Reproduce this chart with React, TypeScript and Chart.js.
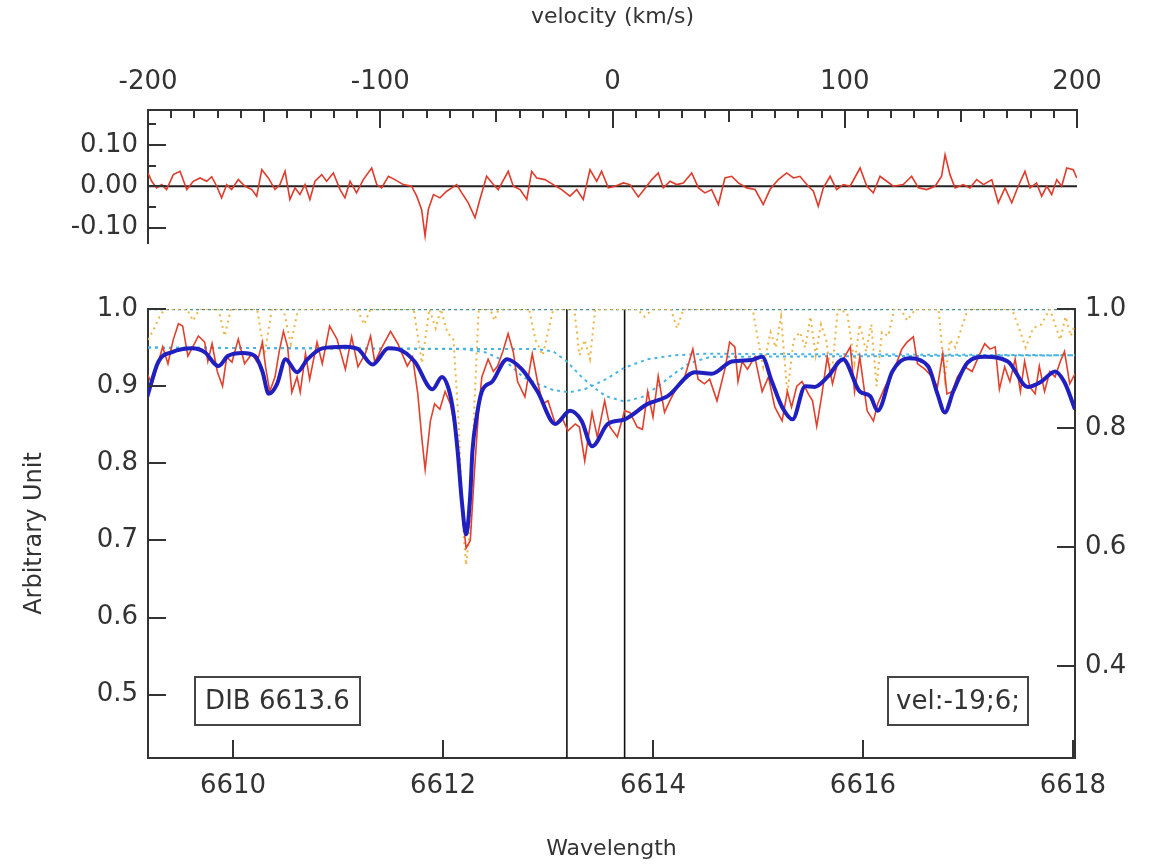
import React, { useEffect, useRef } from "react";
import { Chart, registerables } from "chart.js";

Chart.register(...registerables);

const FONT = "'DejaVu Sans', 'Noto Sans', sans-serif";
const AXIS = "#333333";
const TEXT = "#333333";

// ---------- top panel: residuals vs velocity ----------
const velocityTicks = [-200, -100, 0, 100, 200];
const residualTicks = [-0.1, 0, 0.1];
const residVel = [-200, -198.4, -196.3, -194.1, -192, -189.1, -186.2, -183.3, -180.5, -177.6, -174.7, -172.6, -170.4, -168.3, -166.1, -164, -161.1, -158.2, -155.3, -153.2, -151, -148.2, -145.3, -143.2, -141, -138.9, -136.7, -134.6, -132.4, -130.3, -128.1, -125.2, -123.1, -120.2, -117.3, -115.2, -113, -110.2, -107.3, -103.7, -101.5, -99.4, -96.5, -93.7, -90.1, -86.5, -84.3, -82.2, -80.7, -79.3, -77.1, -74.3, -71.4, -69.2, -67.1, -64.9, -62.1, -59.2, -57.1, -54.2, -51.3, -49.2, -44.9, -42.7, -39.8, -36.9, -34.8, -32.6, -29.1, -25.5, -21.9, -18.3, -15.4, -12.6, -9.7, -6.8, -4.7, -1.8, 1.1, 4.7, 7.5, 11.1, 14.7, 16.9, 19.7, 21.9, 24.8, 27.6, 30.5, 34.1, 37, 39.8, 42.7, 45.6, 48.4, 51.3, 54.2, 57.8, 61.4, 64.9, 67.8, 71.4, 75, 77.9, 80.7, 84.3, 86.5, 88.6, 90.8, 93.7, 96.5, 99.4, 102.3, 106.6, 109.5, 112.3, 115.2, 118.1, 120.9, 125.2, 128.8, 131.7, 135.3, 138.9, 141.7, 143.2, 145.3, 147.5, 151, 153.9, 156.8, 159.7, 163.3, 166.1, 169, 171.9, 174.7, 177.6, 179.8, 182.6, 184.8, 187, 189.1, 191.3, 193.4, 195.6, 198.4, 199.9];
const residVal = [0.032, 0.012, -0.004, 0.004, -0.008, 0.028, 0.036, -0.008, 0.012, 0.02, 0.012, 0.023, 0, -0.028, 0.004, -0.008, 0.016, 0, -0.008, -0.024, 0.04, 0.02, -0.008, 0.004, 0.036, -0.032, -0.004, -0.02, 0.004, -0.032, 0.012, 0.028, 0.012, 0.032, -0.008, -0.028, 0.012, -0.016, 0.016, 0.044, 0.004, -0.004, 0.024, 0.016, 0.004, 0, -0.024, -0.056, -0.12, -0.056, -0.02, -0.028, -0.012, -0.004, 0.004, -0.016, -0.04, -0.076, -0.032, 0.024, 0.004, -0.008, 0.036, 0, -0.008, -0.032, 0.036, 0.02, 0.016, 0.004, -0.008, -0.024, -0.008, -0.032, 0.04, 0.012, 0.036, -0.004, 0, 0.008, 0.004, -0.026, 0, 0.016, 0.032, -0.004, 0.012, 0.004, 0.008, 0.032, -0.004, -0.016, -0.008, -0.044, 0.02, 0.024, 0.008, -0.004, -0.008, -0.044, -0.008, 0.016, 0.032, 0.02, 0.024, 0, -0.012, -0.048, -0.004, 0.024, -0.008, 0.004, 0, 0.044, 0, -0.016, 0.024, 0.012, 0, 0.004, 0.024, -0.004, -0.008, 0, 0.024, 0.076, 0.028, -0.004, 0.004, -0.004, 0.016, 0.004, 0.016, -0.04, -0.004, -0.04, 0, 0.036, -0.004, 0.008, -0.024, 0, -0.02, 0.016, 0, 0.044, 0.04, 0.02];

// ---------- bottom panel: spectrum vs wavelength ----------
const wavelengthTicks = [6610, 6612, 6614, 6616, 6618];
const leftTicks = [0.5, 0.6, 0.7, 0.8, 0.9, 1.0];
const rightTicks = [0.4, 0.6, 0.8, 1.0];

const obsWave = [6609.18, 6609.23, 6609.29, 6609.33, 6609.38, 6609.43, 6609.48, 6609.52, 6609.57, 6609.62, 6609.67, 6609.73, 6609.76, 6609.8, 6609.85, 6609.9, 6609.94, 6609.99, 6610.05, 6610.11, 6610.18, 6610.23, 6610.28, 6610.31, 6610.35, 6610.4, 6610.44, 6610.48, 6610.52, 6610.56, 6610.61, 6610.64, 6610.69, 6610.73, 6610.8, 6610.85, 6610.92, 6610.99, 6611.07, 6611.13, 6611.19, 6611.26, 6611.31, 6611.35, 6611.42, 6611.5, 6611.57, 6611.66, 6611.71, 6611.76, 6611.8, 6611.83, 6611.86, 6611.88, 6611.92, 6611.97, 6612.02, 6612.07, 6612.13, 6612.18, 6612.22, 6612.26, 6612.3, 6612.34, 6612.37, 6612.43, 6612.48, 6612.52, 6612.57, 6612.62, 6612.67, 6612.71, 6612.78, 6612.85, 6612.9, 6612.95, 6613.0, 6613.07, 6613.13, 6613.19, 6613.26, 6613.3, 6613.35, 6613.42, 6613.47, 6613.54, 6613.59, 6613.66, 6613.73, 6613.78, 6613.85, 6613.9, 6613.95, 6614.0, 6614.05, 6614.11, 6614.16, 6614.23, 6614.29, 6614.38, 6614.43, 6614.49, 6614.54, 6614.61, 6614.69, 6614.73, 6614.78, 6614.81, 6614.85, 6614.9, 6614.97, 6615.04, 6615.1, 6615.16, 6615.23, 6615.28, 6615.32, 6615.37, 6615.42, 6615.48, 6615.52, 6615.56, 6615.61, 6615.66, 6615.71, 6615.76, 6615.8, 6615.88, 6615.92, 6615.97, 6616.04, 6616.1, 6616.14, 6616.21, 6616.29, 6616.37, 6616.42, 6616.48, 6616.52, 6616.59, 6616.66, 6616.71, 6616.76, 6616.8, 6616.85, 6616.9, 6616.97, 6617.04, 6617.1, 6617.16, 6617.21, 6617.26, 6617.3, 6617.35, 6617.4, 6617.45, 6617.5, 6617.54, 6617.59, 6617.64, 6617.68, 6617.73, 6617.78, 6617.83, 6617.88, 6617.92, 6617.97, 6618.02];
const obsFlux = [0.916, 0.903, 0.932, 0.951, 0.929, 0.96, 0.981, 0.978, 0.939, 0.952, 0.965, 0.957, 0.932, 0.955, 0.919, 0.9, 0.938, 0.931, 0.961, 0.929, 0.942, 0.931, 0.957, 0.925, 0.893, 0.912, 0.945, 0.971, 0.951, 0.892, 0.912, 0.892, 0.942, 0.909, 0.957, 0.929, 0.978, 0.961, 0.922, 0.964, 0.925, 0.942, 0.965, 0.931, 0.951, 0.971, 0.955, 0.926, 0.938, 0.89, 0.83, 0.792, 0.83, 0.855, 0.877, 0.87, 0.893, 0.877, 0.835, 0.74, 0.69, 0.7, 0.79, 0.87, 0.912, 0.935, 0.919, 0.926, 0.945, 0.968, 0.944, 0.906, 0.886, 0.942, 0.906, 0.877, 0.881, 0.851, 0.86, 0.842, 0.851, 0.847, 0.803, 0.866, 0.834, 0.881, 0.847, 0.834, 0.868, 0.866, 0.847, 0.844, 0.893, 0.86, 0.913, 0.866, 0.881, 0.899, 0.906, 0.948, 0.909, 0.903, 0.909, 0.881, 0.925, 0.957, 0.951, 0.906, 0.932, 0.922, 0.938, 0.893, 0.912, 0.873, 0.855, 0.893, 0.873, 0.9, 0.906, 0.89, 0.881, 0.848, 0.89, 0.938, 0.903, 0.931, 0.932, 0.951, 0.893, 0.938, 0.868, 0.855, 0.877, 0.899, 0.919, 0.948, 0.957, 0.964, 0.929, 0.922, 0.912, 0.899, 0.942, 0.89, 0.893, 0.912, 0.925, 0.919, 0.938, 0.955, 0.948, 0.951, 0.896, 0.925, 0.906, 0.935, 0.893, 0.932, 0.899, 0.89, 0.926, 0.893, 0.919, 0.912, 0.932, 0.945, 0.903, 0.916];

const fitWave = [6609.18, 6609.29, 6609.42, 6609.61, 6609.73, 6609.86, 6609.95, 6610.09, 6610.21, 6610.28, 6610.34, 6610.42, 6610.5, 6610.61, 6610.71, 6610.85, 6611.07, 6611.19, 6611.33, 6611.48, 6611.57, 6611.73, 6611.9, 6611.99, 6612.05, 6612.1, 6612.14, 6612.18, 6612.22, 6612.26, 6612.28, 6612.32, 6612.37, 6612.47, 6612.61, 6612.75, 6612.9, 6613.07, 6613.21, 6613.32, 6613.42, 6613.57, 6613.73, 6613.95, 6614.14, 6614.4, 6614.56, 6614.75, 6614.94, 6615.04, 6615.13, 6615.23, 6615.33, 6615.45, 6615.54, 6615.67, 6615.81, 6615.97, 6616.07, 6616.14, 6616.28, 6616.43, 6616.62, 6616.71, 6616.78, 6616.86, 6617.0, 6617.16, 6617.38, 6617.57, 6617.7, 6617.83, 6617.92, 6618.02];
const fitFlux = [0.885, 0.932, 0.944, 0.949, 0.944, 0.926, 0.939, 0.943, 0.939, 0.919, 0.89, 0.903, 0.935, 0.918, 0.935, 0.949, 0.951, 0.948, 0.928, 0.949, 0.948, 0.932, 0.896, 0.912, 0.898, 0.865, 0.815, 0.75, 0.708, 0.76, 0.815, 0.86, 0.893, 0.906, 0.935, 0.922, 0.893, 0.851, 0.868, 0.855, 0.822, 0.851, 0.857, 0.877, 0.887, 0.918, 0.916, 0.932, 0.934, 0.938, 0.907, 0.873, 0.857, 0.9, 0.899, 0.913, 0.935, 0.893, 0.887, 0.868, 0.919, 0.936, 0.926, 0.89, 0.866, 0.893, 0.931, 0.938, 0.932, 0.899, 0.906, 0.919, 0.905, 0.87];

const telluricWave = [6609.19, 6609.25, 6609.3, 6609.35, 6609.56, 6609.62, 6609.68, 6609.86, 6609.92, 6609.98, 6610.23, 6610.3, 6610.37, 6610.48, 6610.55, 6610.62, 6611.18, 6611.25, 6611.31, 6611.72, 6611.8, 6611.87, 6611.93, 6611.98, 6612.04, 6612.1, 6612.15, 6612.19, 6612.22, 6612.26, 6612.3, 6612.34, 6612.45, 6612.49, 6612.53, 6612.82, 6612.88, 6612.95, 6613.0, 6613.05, 6613.25, 6613.3, 6613.35, 6613.4, 6613.45, 6613.85, 6613.92, 6614.0, 6614.17, 6614.23, 6614.29, 6614.95, 6615.0, 6615.05, 6615.12, 6615.17, 6615.22, 6615.28, 6615.34, 6615.4, 6615.45, 6615.5, 6615.55, 6615.6, 6615.65, 6615.7, 6615.76, 6615.85, 6615.92, 6615.97, 6616.03, 6616.08, 6616.13, 6616.18, 6616.24, 6616.3, 6616.36, 6616.42, 6616.5, 6616.72, 6616.78, 6616.83, 6616.88, 6616.95, 6617.0, 6617.42, 6617.5, 6617.55, 6617.62, 6617.7, 6617.78, 6617.88, 6617.93, 6617.98, 6618.02];
const telluricFlux = [0.96, 0.975, 0.99, 1.0, 1.0, 0.985, 1.0, 1.0, 0.965, 1.0, 1.0, 0.94, 1.0, 1.0, 0.955, 1.0, 1.0, 0.98, 1.0, 1.0, 0.93, 1.0, 0.975, 1.0, 0.97, 0.96, 0.85, 0.72, 0.668, 0.72, 0.88, 1.0, 1.0, 0.985, 1.0, 1.0, 0.96, 0.94, 0.97, 1.0, 1.0, 0.94, 0.96, 0.935, 1.0, 1.0, 0.99, 1.0, 1.0, 0.975, 1.0, 1.0, 0.96, 0.925, 0.97, 0.95, 0.99, 0.89, 0.96, 0.97, 0.95, 0.99, 0.94, 0.98, 0.96, 0.91, 1.0, 0.995, 0.93, 0.98, 0.945, 0.98, 0.9, 0.97, 0.965, 1.0, 1.0, 0.985, 1.0, 1.0, 0.91, 0.96, 0.95, 0.98, 1.0, 1.0, 0.97, 0.95, 0.975, 0.98, 1.0, 0.96, 0.99, 0.965, 0.98];

const compAWave = [6609.19, 6612.2, 6612.4, 6612.6, 6612.76, 6612.9, 6613.05, 6613.2, 6613.35, 6613.54, 6613.73, 6613.95, 6614.2, 6614.5, 6618.02];
const compAFlux = [0.95, 0.948, 0.944, 0.932, 0.912, 0.903, 0.895, 0.892, 0.896, 0.908, 0.924, 0.935, 0.94, 0.942, 0.94];
const compBWave = [6609.19, 6612.9, 6613.05, 6613.18, 6613.32, 6613.42, 6613.55, 6613.73, 6613.9, 6614.05, 6614.2, 6614.35, 6614.55, 6618.02];
const compBFlux = [0.95, 0.948, 0.945, 0.932, 0.912, 0.9, 0.887, 0.88, 0.886, 0.9, 0.916, 0.93, 0.938, 0.94];

const continuumWave = [6609.19, 6618.02];
const continuumFlux = [1.0, 1.0];

const velocityLines = [6613.18, 6613.73];
const dibLabel = "DIB 6613.6";
const velLabel = "vel:-19;6;";

const zip = (xs: number[], ys: number[]) => xs.map((x, i) => ({ x, y: ys[i] }));

const overlayPlugin = {
  id: "overlay",
  afterDraw(chart: any, _args: any, opts: any) {
    const { ctx, chartArea: a } = chart;
    ctx.save();
    ctx.strokeStyle = AXIS;
    ctx.lineWidth = 2;
    for (const m of opts.marks || []) {
      const s = chart.scales[m.scale];
      for (const v of m.values) {
        const p = Math.round(s.getPixelForValue(v.value));
        const len = v.len;
        ctx.beginPath();
        if (m.side === "top") { ctx.moveTo(p, a.top); ctx.lineTo(p, a.top + len); }
        else if (m.side === "bottom") { ctx.moveTo(p, a.bottom); ctx.lineTo(p, a.bottom - len); }
        else if (m.side === "left") { ctx.moveTo(a.left, p); ctx.lineTo(a.left + len, p); }
        else { ctx.moveTo(a.right, p); ctx.lineTo(a.right - len, p); }
        ctx.stroke();
      }
    }
    for (const b of opts.boxes || []) {
      const x = b.fromRight ? a.right - b.dx : a.left + b.dx;
      const y = a.bottom - b.dy;
      ctx.fillStyle = "#ffffff";
      ctx.fillRect(x, y, b.w, b.h);
      ctx.lineWidth = 2;
      ctx.strokeStyle = "#444444";
      ctx.strokeRect(x, y, b.w, b.h);
      ctx.fillStyle = TEXT;
      ctx.font = `26px ${FONT}`;
      ctx.textAlign = "center";
      ctx.textBaseline = "middle";
      ctx.fillText(b.text, x + b.w / 2, y + b.h / 2 + 1);
    }
    ctx.restore();
  },
};

const tickFont = { family: FONT, size: 26 };
const titleFont = { family: FONT, size: 22 };
const yTitleFont = { family: FONT, size: 24 };

const noPad = (s: any) => {
  s.paddingTop = 0;
  s.paddingBottom = 0;
  s.paddingLeft = 0;
  s.paddingRight = 0;
};

export default function App() {
  const topRef = useRef<HTMLCanvasElement>(null);
  const botRef = useRef<HTMLCanvasElement>(null);

  useEffect(() => {
    Chart.defaults.font.family = FONT;
    Chart.defaults.color = TEXT;

    const velMinor: any[] = [];
    for (let v = -200; v <= 200; v += 10) {
      velMinor.push({ value: v, len: v % 100 === 0 ? 18 : v % 50 === 0 ? 12 : 8 });
    }
    const resMarks = [0.15, 0.1, 0.05, 0, -0.05, -0.1].map((v) => ({
      value: v,
      len: Math.abs(Math.round(v * 100)) % 10 === 0 ? 18 : 8,
    }));

    const top = new Chart(topRef.current as HTMLCanvasElement, {
      type: "line",
      data: {
        datasets: [
          {
            data: zip(residVel, residVal),
            borderColor: "#e03a2a",
            borderWidth: 1.6,
            pointRadius: 0,
            tension: 0,
            xAxisID: "x",
            yAxisID: "y",
            order: 0,
          },
          {
            data: zip([-200, 200], [0, 0]),
            borderColor: "#222222",
            borderWidth: 2,
            pointRadius: 0,
            xAxisID: "x",
            yAxisID: "y",
            order: 1,
          },
        ],
      },
      options: {
        responsive: false,
        animation: false,
        devicePixelRatio: 1,
        events: [],
        layout: { padding: { left: 0, right: 77, top: 0, bottom: 17 } },
        plugins: {
          legend: { display: false },
          tooltip: { enabled: false },
          overlay: {
            marks: [
              { scale: "x", side: "top", values: velMinor },
              { scale: "y", side: "left", values: resMarks },
            ],
          },
        } as any,
        scales: {
          x: {
            type: "linear",
            position: "top",
            min: -200,
            max: 200,
            afterBuildTicks: (s: any) => { s.ticks = velocityTicks.map((v) => ({ value: v })); },
            afterFit: (s: any) => { s.height = 110; noPad(s); },
            ticks: { font: tickFont, color: TEXT, padding: 12, autoSkip: false, maxRotation: 0, callback: (v: any) => String(v) },
            grid: { display: false, drawTicks: false },
            border: { display: true, color: AXIS, width: 2 },
            title: { display: true, text: "velocity (km/s)", font: titleFont, color: TEXT, padding: { top: 4, bottom: 0 } },
          },
          y: {
            type: "linear",
            position: "left",
            min: -0.137,
            max: 0.184,
            afterBuildTicks: (s: any) => { s.ticks = residualTicks.map((v) => ({ value: v })); },
            afterFit: (s: any) => { s.width = 148; noPad(s); },
            ticks: { font: tickFont, color: TEXT, padding: 10, autoSkip: false, callback: (v: any) => Number(v).toFixed(2) },
            grid: { display: false, drawTicks: false },
            border: { display: true, color: AXIS, width: 2 },
          },
        },
      },
      plugins: [overlayPlugin],
    });

    const lineDash = (id: string, xs: number[], ys: number[], color: string, dash: number[], order: number, width = 2) => ({
      label: id,
      data: zip(xs, ys),
      borderColor: color,
      borderWidth: width,
      borderDash: dash,
      pointRadius: 0,
      tension: 0,
      xAxisID: "x",
      yAxisID: "y",
      order,
    });

    const bottom = new Chart(botRef.current as HTMLCanvasElement, {
      type: "line",
      data: {
        datasets: [
          {
            label: "fit",
            data: zip(fitWave, fitFlux),
            borderColor: "#2020c0",
            borderWidth: 4,
            pointRadius: 0,
            cubicInterpolationMode: "monotone",
            xAxisID: "x",
            yAxisID: "y",
            order: 0,
          },
          {
            label: "observed",
            data: zip(obsWave, obsFlux),
            borderColor: "#e0402c",
            borderWidth: 1.6,
            pointRadius: 0,
            tension: 0,
            xAxisID: "x",
            yAxisID: "y",
            order: 1,
          },
          lineDash("compA", compAWave, compAFlux, "#48b4e6", [3, 4], 2),
          lineDash("compB", compBWave, compBFlux, "#48b4e6", [3, 4], 3),
          lineDash("telluric", telluricWave, telluricFlux, "#efb446", [2, 4], 4),
          lineDash("continuum", continuumWave, continuumFlux, "#4f8f86", [3, 3], 5, 2.5),
          ...velocityLines.map((w, i) => ({
            label: "v" + i,
            data: zip([w, w], [0.418, 1.0]),
            borderColor: "#111111",
            borderWidth: 1.6,
            pointRadius: 0,
            xAxisID: "x",
            yAxisID: "y",
            order: 6,
          })),
        ],
      },
      options: {
        responsive: false,
        animation: false,
        devicePixelRatio: 1,
        events: [],
        layout: { padding: { left: 0, right: 0, top: 49, bottom: 0 } },
        plugins: {
          legend: { display: false },
          tooltip: { enabled: false },
          overlay: {
            marks: [
              { scale: "x", side: "bottom", values: wavelengthTicks.map((v) => ({ value: v, len: 18 })) },
              { scale: "y", side: "left", values: leftTicks.map((v) => ({ value: v, len: 18 })) },
              { scale: "y2", side: "right", values: rightTicks.map((v) => ({ value: v, len: 18 })) },
            ],
            boxes: [
              { text: dibLabel, dx: 47, dy: 81, w: 165, h: 48 },
              { text: velLabel, fromRight: true, dx: 187, dy: 81, w: 140, h: 48 },
            ],
          },
        } as any,
        scales: {
          x: {
            type: "linear",
            position: "bottom",
            min: 6609.19,
            max: 6618.02,
            afterBuildTicks: (s: any) => { s.ticks = wavelengthTicks.map((v) => ({ value: v })); },
            afterFit: (s: any) => { s.height = 108; noPad(s); },
            ticks: { font: tickFont, color: TEXT, padding: 13, autoSkip: false, maxRotation: 0, callback: (v: any) => String(v) },
            grid: { display: false, drawTicks: false },
            border: { display: true, color: AXIS, width: 2 },
            title: { display: true, text: "Wavelength", font: titleFont, color: TEXT, padding: { top: 0, bottom: 4 } },
          },
          y: {
            type: "linear",
            position: "left",
            min: 0.418,
            max: 1.0,
            afterBuildTicks: (s: any) => { s.ticks = leftTicks.map((v) => ({ value: v })); },
            afterFit: (s: any) => { s.width = 148; noPad(s); },
            ticks: { font: tickFont, color: TEXT, padding: 10, autoSkip: false, callback: (v: any) => Number(v).toFixed(1) },
            grid: { display: false, drawTicks: false },
            border: { display: true, color: AXIS, width: 2 },
            title: { display: true, text: "Arbitrary Unit", font: yTitleFont, color: TEXT, padding: { top: 20, bottom: 0 } },
          },
          y2: {
            type: "linear",
            position: "right",
            min: 0.245,
            max: 1.0,
            afterBuildTicks: (s: any) => { s.ticks = rightTicks.map((v) => ({ value: v })); },
            afterFit: (s: any) => { s.width = 79; noPad(s); },
            ticks: { font: tickFont, color: TEXT, padding: 10, autoSkip: false, callback: (v: any) => Number(v).toFixed(1) },
            grid: { display: false, drawTicks: false },
            border: { display: true, color: AXIS, width: 2 },
          },
        },
      },
      plugins: [overlayPlugin],
    });

    return () => {
      top.destroy();
      bottom.destroy();
    };
  }, []);

  return (
    <div style={{ position: "absolute", left: 0, top: 0, width: 1154, height: 866, background: "#ffffff" }}>
      <canvas ref={topRef} width={1154} height={260} style={{ position: "absolute", left: 0, top: 0 }} />
      <canvas ref={botRef} width={1154} height={606} style={{ position: "absolute", left: 0, top: 260 }} />
    </div>
  );
}
